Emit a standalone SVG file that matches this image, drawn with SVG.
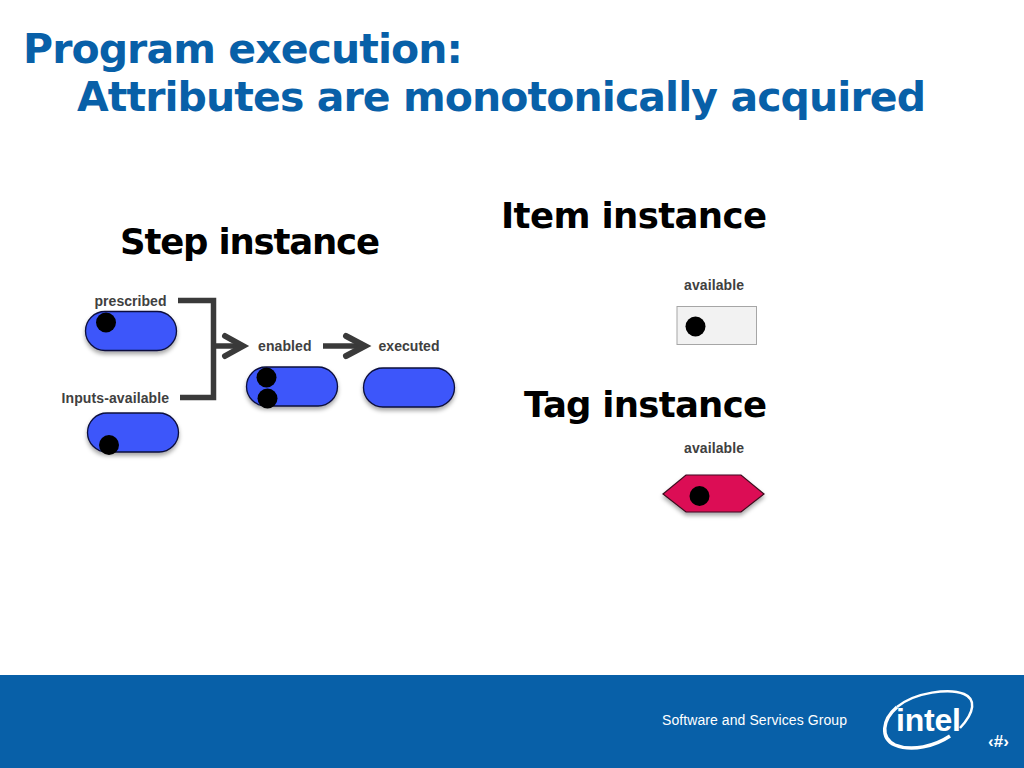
<svg xmlns="http://www.w3.org/2000/svg" width="1024" height="768" viewBox="0 0 1024 768">
<style>
.title{font:bold 41px "DejaVu Sans",sans-serif;fill:#0860a8}
.head{font:bold 35.5px "DejaVu Sans",sans-serif;fill:#000}
.lab{font:bold 14px "Liberation Sans",Arial,sans-serif;fill:#404040}
.step{fill:#3c57fa;stroke:#0a0f3c;stroke-width:1.3;filter:url(#sh)}
.dot{fill:#000}
.conn{fill:none;stroke:#3a3a3a;stroke-width:5.500}
.head-line{fill:none;stroke:#3a3a3a;stroke-width:6;stroke-linecap:round}
.logo{fill:none;stroke:#fff}
</style>
<defs>
<filter id="sh" x="-20%" y="-20%" width="140%" height="160%"><feDropShadow dx="0" dy="3" stdDeviation="2" flood-color="#000" flood-opacity="0.35"/></filter>
</defs>
<rect width="1024" height="768" fill="#fff"/>
<text class="title" x="23" y="63" textLength="440">Program execution:</text>
<text class="title" x="77" y="111" textLength="849">Attributes are monotonically acquired</text>
<text class="head" x="120" y="254" textLength="260">Step instance</text>
<text class="head" x="501" y="228" textLength="266">Item instance</text>
<text class="head" x="524" y="417" textLength="243">Tag instance</text>

<g id="connectors">
<path class="conn" d="M178 300.500H213.500V397.500H180"/>
<path class="conn" d="M212 346H243"/>
<path class="head-line" d="M225 336L243 346L225 356"/>
<path class="conn" d="M323 346H364"/>
<path class="head-line" d="M346 336L365 346L346 356"/>
</g>

<g id="step-prescribed">
<text class="lab" x="94.500" y="306" textLength="72">prescribed</text>
<rect class="step" x="85.500" y="311.500" width="91" height="39" rx="19.500"/>
<circle class="dot" cx="106" cy="322.500" r="10"/>
</g>
<g id="step-inputs">
<text class="lab" x="61.500" y="403" textLength="107.500">Inputs-available</text>
<rect class="step" x="87.500" y="413" width="91" height="39" rx="19.500"/>
<circle class="dot" cx="109" cy="445" r="10"/>
</g>
<g id="step-enabled">
<text class="lab" x="258" y="351" textLength="53.500">enabled</text>
<rect class="step" x="246.500" y="367" width="91" height="39" rx="19.500"/>
<circle class="dot" cx="266.500" cy="377.500" r="10"/>
<circle class="dot" cx="267.500" cy="398.500" r="10"/>
</g>
<g id="step-executed">
<text class="lab" x="378.500" y="351" textLength="61">executed</text>
<rect class="step" x="363.500" y="368" width="91" height="39" rx="19.500"/>
</g>
<g id="item">
<text class="lab" x="684" y="290" textLength="60">available</text>
<rect x="677" y="306.500" width="79.500" height="38" fill="#f2f2f2" stroke="#a6a6a6" stroke-width="1"/>
<circle class="dot" cx="695.500" cy="326.500" r="10"/>
</g>
<g id="tag">
<text class="lab" x="684" y="453" textLength="60">available</text>
<path d="M663 494L686 475H741L764 494L741 512H686Z" fill="#dc0a55" stroke="#3c0a1e" stroke-width="1.200" filter="url(#sh)"/>
<circle class="dot" cx="699.500" cy="496" r="10"/>
</g>

<g id="footer">
<rect y="675" width="1024" height="93" fill="#0860a8"/>
<text x="662" y="725" font-family="Liberation Sans,Arial,sans-serif" font-size="14" fill="#fff" textLength="185">Software and Services Group</text>
<path class="logo" stroke-width="2.500" d="M897 707C915 692 950 688 964 694C976 699 975 712 960 728"/>
<path class="logo" stroke-width="3.500" d="M897 707C882 720 880 738 895 745C912 752 935 746 950 736"/>
<text x="896" y="731" font-family="Liberation Sans,Arial,sans-serif" font-size="32" font-weight="bold" fill="#fff" textLength="65">intel</text>
<text x="988" y="747" font-family="Liberation Sans,Arial,sans-serif" font-size="17" font-weight="bold" fill="#fff" textLength="21">‹#›</text>
</g>
</svg>
